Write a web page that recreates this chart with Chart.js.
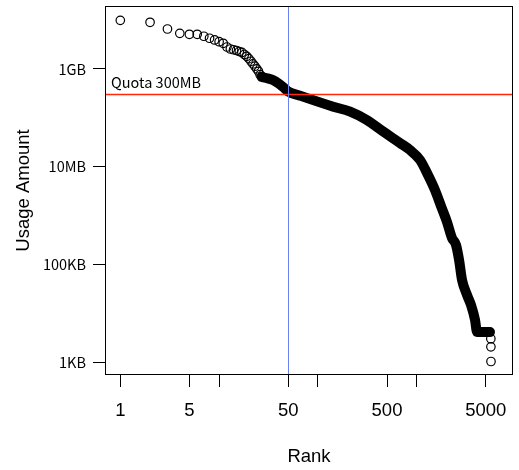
<!DOCTYPE html>
<html><head><meta charset="utf-8">
<script src="https://cdn.jsdelivr.net/npm/chart.js@4/dist/chart.umd.min.js"></script>
<style>html,body{margin:0;padding:0;background:#fff;}canvas{display:block;}</style>
</head><body>
<canvas id="c" width="519" height="470"></canvas>
<script>
// Individually visible circles (largest users)
const topRanks  = [1,2,3,4,5,6,7,8,9,10,11,12,13,14,15,16,17,18,19,20,21,22,23,24,25,26,27];
const topValues = [9.93e9,9.04e9,6.59e9,5.38e9,5.14e9,5.14e9,4.68e9,4.26e9,3.93e9,3.62e9,3.36e9,2.82e9,2.57e9,2.48e9,2.39e9,2.28e9,2.18e9,1.98e9,1.82e9,1.63e9,1.44e9,1.27e9,1.14e9,1.01e9,8.98e8,7.64e8,7.02e8];
// Dense band of overlapping circles (read along its centre)
const bandRanks  = [27,30,35,40,45,50,66,143,212,312,460,678,855,1080,1300,1530,1790,2025,2275,2497,2680,2873,3228,3542,3890,4075,5510];
const bandValues = [6.86e8,6.54e8,5.95e8,5.05e8,4.18e8,3.46e8,2.84e8,1.69e8,1.34e8,9.04e7,5.20e7,3.05e7,2.19e7,1.37e7,6.74e6,3.32e6,1.42e6,7.36e5,3.46e5,2.49e5,1.23e5,4.78e4,2.36e4,1.47e4,7.24e3,4096,4096];
// Last few separate circles
const tailRanks  = [5620,5630,5640];
const tailValues = [3000,2048,1024];

const xTickValues = [1,5,10,50,100,500,1000,5000];
const xTickLabels = ['1','5','','50','','500','','5000'];
const yTickValues = [1e3,1e5,1e7,1e9];
const yTickLabels = ['1KB','100KB','10MB','1GB'];

const quotaBytes = 3e8;
const quotaLabel = 'Quota 300MB';
const cutRank = 50;

const toXY = (rs, vs) => rs.map((r, i) => ({x: r, y: vs[i]}));

const overlay = {
  id: 'overlay',
  afterDatasetsDraw(chart) {
    const {ctx, chartArea: a, scales: {x, y}} = chart;
    ctx.save();
    const qy = y.getPixelForValue(quotaBytes);
    ctx.lineWidth = 1.5;
    ctx.strokeStyle = 'rgb(255,40,10)';
    ctx.beginPath(); ctx.moveTo(a.left, qy); ctx.lineTo(a.right, qy); ctx.stroke();
    const vx = Math.round(x.getPixelForValue(cutRank)) + 0.5;
    ctx.lineWidth = 1;
    ctx.strokeStyle = 'rgb(107,130,242)';
    ctx.beginPath(); ctx.moveTo(vx, a.top); ctx.lineTo(vx, a.bottom); ctx.stroke();
    ctx.fillStyle = '#000';
    ctx.font = '14.5px "Noto Sans CJK JP"';
    ctx.textBaseline = 'alphabetic';
    ctx.textAlign = 'left';
    ctx.fillText(quotaLabel, a.left + 6, qy - 7);
    ctx.strokeStyle = '#000';
    ctx.strokeRect(Math.round(a.left) + 0.5, Math.round(a.top) + 0.5,
                   Math.round(a.right - a.left) - 1, Math.round(a.bottom - a.top) - 1);
    ctx.restore();
  }
};

const circleStyle = {
  pointRadius: 4.25, pointBorderWidth: 1.2,
  pointBackgroundColor: 'rgba(0,0,0,0)', pointBorderColor: '#000',
  showLine: false
};

const noPad = s => { s.paddingTop = 0; s.paddingBottom = 0; s.paddingLeft = 0; s.paddingRight = 0; };

new Chart(document.getElementById('c'), {
  type: 'scatter',
  data: {
    datasets: [
      {
        data: toXY(bandRanks, bandValues),
        showLine: true, borderColor: '#000', borderWidth: 10,
        borderJoinStyle: 'round', borderCapStyle: 'round',
        cubicInterpolationMode: 'monotone', pointRadius: 0
      },
      Object.assign({data: toXY(topRanks, topValues)}, circleStyle),
      Object.assign({data: toXY(tailRanks, tailValues)}, circleStyle)
    ]
  },
  options: {
    responsive: false, animation: false, devicePixelRatio: 1,
    layout: {padding: {top: 6, right: 6, left: 0, bottom: 0}},
    plugins: {legend: {display: false}, tooltip: {enabled: false}},
    scales: {
      x: {
        type: 'logarithmic', min: 0.71, max: 9420,
        afterBuildTicks: s => { s.ticks = xTickValues.map(v => ({value: v})); },
        afterFit: s => { s.height = 95; noPad(s); },
        grid: {drawOnChartArea: false, drawTicks: true, tickLength: 12, color: '#000', lineWidth: 1},
        border: {display: false},
        ticks: {
          autoSkip: false, maxRotation: 0, minRotation: 0, padding: 13, color: '#000',
          font: {family: '"Liberation Sans", Arial, sans-serif', size: 18.5},
          callback: (v, i) => xTickLabels[i]
        },
        title: {display: true, text: 'Rank', color: '#000',
          font: {family: '"Liberation Sans", Arial, sans-serif', size: 18.5},
          padding: {top: 0, bottom: 2}}
      },
      y: {
        type: 'logarithmic', min: 542, max: 1.95e10,
        afterBuildTicks: s => { s.ticks = yTickValues.map(v => ({value: v})); },
        afterFit: s => { s.width = 105; noPad(s); },
        grid: {drawOnChartArea: false, drawTicks: true, tickLength: 12, color: '#000', lineWidth: 1},
        border: {display: false},
        ticks: {
          autoSkip: false, padding: 7, color: '#000',
          font: {family: '"Noto Sans CJK JP", sans-serif', size: 14.5},
          callback: (v, i) => yTickLabels[i]
        },
        title: {display: true, text: 'Usage Amount', color: '#000',
          font: {family: '"Liberation Sans", Arial, sans-serif', size: 18.5},
          padding: {top: 13, bottom: 0}}
      }
    }
  },
  plugins: [overlay]
});
</script>
</body></html>
